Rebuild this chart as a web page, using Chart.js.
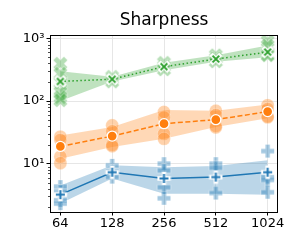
<!DOCTYPE html>
<html>
<head>
<meta charset="utf-8">
<script src="https://cdn.jsdelivr.net/npm/chart.js@4/dist/chart.umd.min.js"></script>
<style>
  body { margin: 0; background: #fff; }
  canvas { display: block; }
</style>
</head>
<body>
<canvas id="chart" width="300" height="250"></canvas>
<script>
// data
const sizes = [64, 128, 256, 512, 1024];
const yTicks = [10, 100, 1000];

const blueMean = [3.2, 7.3, 5.8, 6.1, 7.3];
const blueLow = [2.3, 5.8, 3.3, 3.3, 3.2];
const blueHigh = [4.5, 9.4, 8.8, 9.2, 11.3];
const blueSeeds = [[4.3, 3.6, 2.6, 2.3], [9.4, 7.5, 6.1], [10, 7.8, 4.2, 2.8], [10, 8.6, 3.4], [15.9, 6.1, 5.5, 3.5]];

const orangeMean = [18.9, 27.6, 43.6, 50.5, 68];
const orangeLow = [12, 18.4, 25, 38.5, 53];
const orangeHigh = [28.3, 38.5, 72, 70, 88];
const orangeSeeds = [[27, 24, 13, 10.2], [41, 33, 20, 19], [67, 55, 30, 25], [70, 60, 40, 38], [86, 75, 57, 55]];

const greenMean = [206, 224, 355, 470, 607];
const greenLow = [100, 205, 310, 425, 504];
const greenHigh = [300, 245, 410, 540, 776];
const greenSeeds = [[396, 274, 200, 139, 116, 103], [245, 225, 205], [410, 360, 320], [540, 480, 430], [908, 775, 560, 536]];

const BLUE = '#1f77b4', ORANGE = '#ff7f0e', GREEN = '#2ca02c';
const FONT = 'DejaVu Sans';

function xs(i) { return Math.log2(sizes[i]); }
function line(arr) { return arr.map((v, i) => ({ x: xs(i), y: v })); }
function seeds(arr) {
    const out = [];
    arr.forEach((list, i) => list.forEach(v => out.push({ x: xs(i), y: v })));
    return out;
}

// filled plus / x marker (translucent seed points)
function makeFilled(kind, size, fill, edge, edgeW) {
    const c = document.createElement('canvas');
    const dim = Math.ceil(size + edgeW * 2 + 2);
    c.width = dim; c.height = dim;
    const ctx = c.getContext('2d');
    ctx.translate(dim / 2, dim / 2);
    if (kind === 'x') ctx.rotate(Math.PI / 4);
    const s = size / 2, t = size / 6;
    ctx.beginPath();
    ctx.moveTo(-t, -s); ctx.lineTo(t, -s); ctx.lineTo(t, -t); ctx.lineTo(s, -t);
    ctx.lineTo(s, t); ctx.lineTo(t, t); ctx.lineTo(t, s); ctx.lineTo(-t, s);
    ctx.lineTo(-t, t); ctx.lineTo(-s, t); ctx.lineTo(-s, -t); ctx.lineTo(-t, -t);
    ctx.closePath();
    if (edgeW > 0) {
        ctx.lineWidth = edgeW * 2;
        ctx.strokeStyle = edge;
        ctx.stroke();
    }
    ctx.fillStyle = fill;
    ctx.fill();
    return c;
}

// stroked + / x marker with a white halo (mean points)
function makeStroked(kind, size, color, lw) {
    const c = document.createElement('canvas');
    const dim = Math.ceil(size + 6);
    c.width = dim; c.height = dim;
    const ctx = c.getContext('2d');
    ctx.translate(dim / 2, dim / 2);
    if (kind === 'x') ctx.rotate(Math.PI / 4);
    const s = size / 2;
    const path = () => {
        ctx.beginPath();
        ctx.moveTo(-s, 0); ctx.lineTo(s, 0);
        ctx.moveTo(0, -s); ctx.lineTo(0, s);
    };
    path();
    ctx.lineCap = 'square';
    ctx.strokeStyle = '#fff';
    ctx.lineWidth = lw + 2.4;
    ctx.stroke();
    path();
    ctx.lineCap = 'butt';
    ctx.strokeStyle = color;
    ctx.lineWidth = lw;
    ctx.stroke();
    return c;
}

const bluePlus = makeStroked('plus', 9, BLUE, 2);
const greenX = makeStroked('x', 9.5, GREEN, 2);
const bluePlusSeed = makeFilled('plus', 13, 'rgba(31,119,180,0.4)', 'rgba(255,255,255,0.35)', 0.7);
const greenXSeed = makeFilled('x', 15, 'rgba(44,160,44,0.35)', 'rgba(255,255,255,0.35)', 0.7);

function band(low, high, color) {
    return [
        { type: 'line', data: line(low), borderWidth: 0, pointRadius: 0, fill: false, order: 3 },
        { type: 'line', data: line(high), borderWidth: 0, pointRadius: 0, fill: '-1', backgroundColor: color, order: 3 }
    ];
}

const frame = {
    id: 'frame',
    afterDraw(chart) {
        const { ctx, chartArea: a, scales } = chart;
        ctx.save();
        ctx.strokeStyle = '#000';
        ctx.lineWidth = 1;
        ctx.strokeRect(Math.round(a.left) + 0.5, Math.round(a.top) + 0.5,
            Math.round(a.right - a.left) - 1, Math.round(a.bottom - a.top));
        // minor ticks on the log axis
        const y = scales.y;
        ctx.beginPath();
        for (let d = 1; d <= 1000; d *= 10) {
            for (let m = 2; m <= 9; m++) {
                const v = d * m;
                if (v < y.min || v > y.max) continue;
                const py = Math.round(y.getPixelForValue(v)) + 0.5;
                ctx.moveTo(a.left, py);
                ctx.lineTo(a.left - 2, py);
            }
        }
        ctx.lineWidth = 0.7;
        ctx.stroke();
        ctx.restore();
    }
};

new Chart(document.getElementById('chart'), {
    type: 'line',
    data: {
        datasets: [
            ...band(blueLow, blueHigh, 'rgba(31,119,180,0.3)'),
            ...band(orangeLow, orangeHigh, 'rgba(255,127,14,0.3)'),
            ...band(greenLow, greenHigh, 'rgba(44,160,44,0.3)'),
            { type: 'scatter', data: seeds(blueSeeds), pointStyle: bluePlusSeed, order: 2 },
            { type: 'scatter', data: seeds(orangeSeeds), pointStyle: 'circle', pointRadius: 6.5,
              backgroundColor: 'rgba(255,127,14,0.35)', borderColor: 'rgba(255,255,255,0.35)', borderWidth: 0.7, order: 2 },
            { type: 'scatter', data: seeds(greenSeeds), pointStyle: greenXSeed, order: 2 },
            { data: line(blueMean), borderColor: BLUE, borderWidth: 1.5, pointStyle: bluePlus, order: 1 },
            { data: line(orangeMean), borderColor: ORANGE, borderWidth: 1.5, borderDash: [5, 2.5],
              pointStyle: 'circle', pointRadius: 5, backgroundColor: ORANGE, pointBorderColor: '#fff', pointBorderWidth: 1.3, order: 1 },
            { data: line(greenMean), borderColor: GREEN, borderWidth: 1.5, borderDash: [1.5, 2.5], pointStyle: greenX, order: 1 }
        ]
    },
    options: {
        responsive: false,
        animation: false,
        layout: { padding: { left: 0, right: 22, top: 0, bottom: 0 } },
        plugins: {
            legend: { display: false },
            tooltip: { enabled: false },
            title: {
                display: true, text: 'Sharpness', color: '#000', fullSize: false,
                font: { family: FONT, size: 17, weight: 'normal' },
                padding: { top: 10, bottom: 5 }
            }
        },
        scales: {
            x: {
                type: 'linear', min: 5.8, max: 10.2,
                afterBuildTicks: s => { s.ticks = sizes.map(v => ({ value: Math.log2(v) })); },
                afterFit: s => { s.height = 38; },
                ticks: {
                    color: '#000', padding: 0, maxRotation: 0,
                    font: { family: FONT, size: 13 },
                    callback: v => String(Math.round(Math.pow(2, v)))
                },
                grid: { color: '#e6e6e6', lineWidth: 1, tickColor: '#000', tickLength: 3.5 },
                border: { display: false }
            },
            y: {
                type: 'logarithmic', min: 1.69, max: 1122,
                afterBuildTicks: s => { s.ticks = yTicks.map(v => ({ value: v })); },
                afterFit: s => { s.width = 50; },
                ticks: {
                    color: '#000', padding: 2,
                    font: { family: FONT, size: 13 },
                    callback: v => ({ 10: '10\u00b9', 100: '10\u00b2', 1000: '10\u00b3' })[v] || ''
                },
                grid: { color: '#e6e6e6', lineWidth: 1, tickColor: '#000', tickLength: 3.5 },
                border: { display: false }
            }
        }
    },
    plugins: [frame]
});
</script>
</body>
</html>
